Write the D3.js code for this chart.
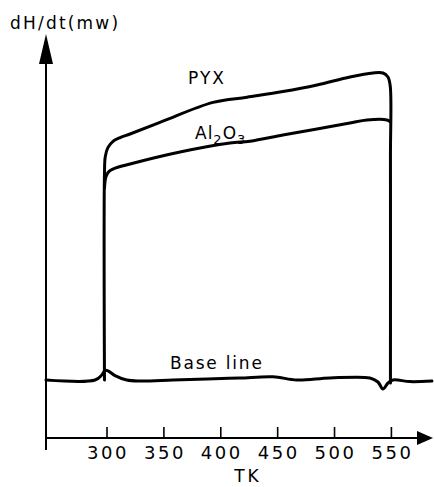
<!DOCTYPE html>
<html>
<head>
<meta charset="utf-8">
<script src="https://cdn.jsdelivr.net/npm/d3@7"></script>
<style>
  body { margin: 0; background: #fff; }
  text { font-family: "DejaVu Sans", sans-serif; fill: #000; }
</style>
</head>
<body>
<svg id="chart"></svg>
<script>
// ticks on the temperature axis (K)
const xTicks = [300, 350, 400, 450, 500, 550];

// traces: [T (K), dH/dt (arbitrary units)]
const baseLine = [
  [246.8, 14.5], [289.9, 14.5], [295.8, 15.75], [298.7, 16.9], [301.3, 16.8],
  [307.5, 15.6], [317.8, 14.5], [329.4, 14.25], [358.4, 14.5], [388.3, 14.75],
  [417.3, 15], [446.3, 15.3], [467.4, 14.5], [496.4, 15], [531.5, 15],
  [538.6, 14], [543, 12.25], [547.4, 13.75], [551.8, 14.5], [566.7, 14.1], [586.1, 14.25]
];
const pyx = [
  [298.2, 14.5], [298.2, 66], [298.9, 70.3], [301.2, 72.6], [305.5, 74.1],
  [312, 75.1], [320.7, 76], [349.6, 79.2], [393.6, 83.9], [423.5, 85.2], [455.1, 86.6],
  [485, 88.25], [514, 90.25], [534.2, 91.25], [543, 91.25], [547.4, 90.25],
  [549.4, 88], [549.6, 70], [549.6, 13.75]
];
const al2o3 = [
  [298.2, 62.5], [299.5, 65.3], [302, 66.6], [306, 67.3], [320.7, 68.5], [364.6, 71.5],
  [408.5, 73.75], [426.1, 74.2], [455.1, 75.75], [485, 77.25], [514, 78.75],
  [529, 79.5], [546.5, 79.5], [549.6, 79]
];

const width = 434, height = 487;
const axisY = 438, axisX = 46;

const svg = d3.select('#chart')
  .attr('width', width)
  .attr('height', height);

const xScale = d3.scaleLinear()
  .domain([246.8, 587])
  .range([axisX, 433]);

const yScale = d3.scaleLinear()
  .domain([0, 100])
  .range([axisY, 38]);

const line = d3.line()
  .x(d => xScale(d[0]))
  .y(d => yScale(d[1]))
  .curve(d3.curveCatmullRom.alpha(0.5));

// x axis with upward ticks
const xAxis = d3.axisBottom(xScale)
  .tickValues(xTicks)
  .tickSizeInner(-11)
  .tickSizeOuter(0)
  .tickPadding(8);

const xAxisGroup = svg.append('g')
  .attr('transform', `translate(0,${axisY})`)
  .call(xAxis);
xAxisGroup.select('.domain').remove();
xAxisGroup.selectAll('.tick line').attr('stroke', '#000').attr('stroke-width', 1.6);
xAxisGroup.selectAll('.tick text')
  .style('font-size', '18px')
  .style('letter-spacing', '2.5px')
  .attr('dx', '1px')
  .attr('fill', '#000');

// axis lines and arrows
svg.append('line')
  .attr('x1', axisX).attr('x2', 420)
  .attr('y1', axisY).attr('y2', axisY)
  .attr('stroke', '#000').attr('stroke-width', 2);
svg.append('line')
  .attr('x1', axisX).attr('x2', axisX)
  .attr('y1', 60).attr('y2', 450)
  .attr('stroke', '#000').attr('stroke-width', 2);
svg.append('path')
  .attr('d', `M433,${axisY} L417,${axisY - 7} L417,${axisY + 7} Z`)
  .attr('fill', '#000');
svg.append('path')
  .attr('d', `M${axisX},34 L${axisX - 7},64 L${axisX + 7},64 Z`)
  .attr('fill', '#000');

// traces
[baseLine, pyx, al2o3].forEach(d => {
  svg.append('path')
    .datum(d)
    .attr('d', line)
    .attr('fill', 'none')
    .attr('stroke', '#000')
    .attr('stroke-width', 3)
    .attr('stroke-linejoin', 'round')
    .attr('stroke-linecap', 'round');
});

// labels
svg.append('text')
  .attr('x', 10).attr('y', 29)
  .style('font-size', '17px')
  .style('letter-spacing', '2.2px')
  .text('dH/dt(mw)');

svg.append('text')
  .attr('x', 207).attr('y', 84)
  .attr('text-anchor', 'middle')
  .style('font-size', '17px')
  .style('letter-spacing', '2px')
  .text('PYX');

const al = svg.append('text')
  .attr('x', 195).attr('y', 139)
  .style('font-size', '17px')
  .style('letter-spacing', '1px');
al.append('tspan').text('Al');
al.append('tspan').attr('dy', 5).style('font-size', '13px').text('2');
al.append('tspan').attr('dy', -5).text('O');
al.append('tspan').attr('dy', 5).style('font-size', '13px').text('3');

svg.append('text')
  .attr('x', 170).attr('y', 369)
  .style('font-size', '17px')
  .style('letter-spacing', '1.8px')
  .text('Base line');

svg.append('text')
  .attr('x', 248).attr('y', 482)
  .attr('text-anchor', 'middle')
  .style('font-size', '17px')
  .style('letter-spacing', '3px')
  .text('TK');
</script>
</body>
</html>
